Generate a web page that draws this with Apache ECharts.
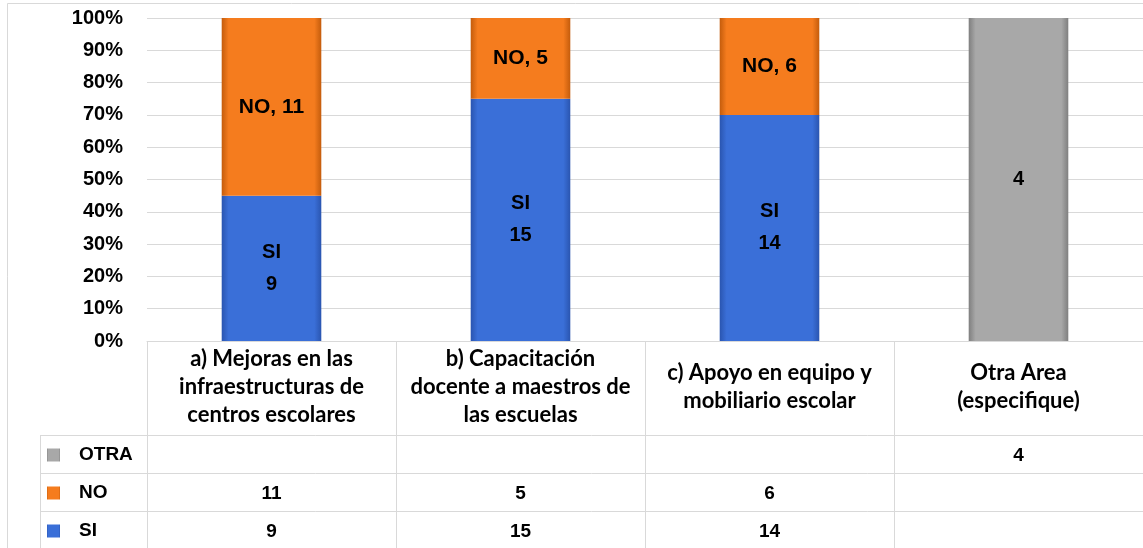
<!DOCTYPE html>
<html>
<head>
<meta charset="utf-8">
<script src="https://cdn.jsdelivr.net/npm/echarts@6/dist/echarts.min.js"></script>
<style>
html,body{margin:0;padding:0;background:#fff;}
#c{width:1143px;height:548px;}
</style>
</head>
<body>
<div id="c"></div>
<script>
var categories = [
  "a) Mejoras en las\ninfraestructuras de\ncentros escolares",
  "b) Capacitación\ndocente a maestros de\nlas escuelas",
  "c) Apoyo en equipo y\nmobiliario escolar",
  "Otra Area\n(especifique)"
];
var siValues = [9, 15, 14, null];
var noValues = [11, 5, 6, null];
var otraValues = [null, null, null, 4];
var yTicks = [0, 10, 20, 30, 40, 50, 60, 70, 80, 90, 100];

function totals(i) {
  return (siValues[i] || 0) + (noValues[i] || 0) + (otraValues[i] || 0);
}
function pct(arr) {
  return arr.map(function (v, i) { return v == null ? null : v / totals(i) * 100; });
}
function grad(edge, mid) {
  return new echarts.graphic.LinearGradient(0, 0, 1, 0, [
    {offset: 0, color: edge}, {offset: 0.07, color: mid},
    {offset: 0.93, color: mid}, {offset: 1, color: edge}
  ]);
}
var blue = grad('#2a55b0', '#3a6fd8');
var orange = grad('#c45c0c', '#f57c1e');
var gray = grad('#7f7f7f', '#a8a8a8');

var lineColor = '#d9d9d9';

function rowAxis(values, offset) {
  return {
    type: 'category', data: categories, position: 'bottom', offset: offset,
    axisLine: {show: false}, axisTick: {show: false},
    axisLabel: {
      interval: 0, margin: 0, verticalAlign: 'middle',
      fontFamily: 'Liberation Sans', fontWeight: 'bold', fontSize: 19, color: '#000',
      formatter: function (v, idx) { return values[idx] == null ? '' : String(values[idx]); }
    }
  };
}

var chart = echarts.init(document.getElementById('c'));
var option = {
  animation: false,
  backgroundColor: '#fff',
  grid: {left: 147, right: -6, top: 18, bottom: 207},
  legend: {
    data: ['OTRA', 'NO', 'SI'],
    orient: 'vertical', left: 47, top: 444, padding: 0,
    itemWidth: 13, itemHeight: 13, itemGap: 16,
    icon: 'rect',
    textStyle: {fontFamily: 'Liberation Sans', fontWeight: 'bold', fontSize: 19, lineHeight: 22, color: '#000', padding: [0, 0, 0, 14]}
  },
  xAxis: [
    {
      type: 'category', data: categories, position: 'bottom',
      axisLine: {show: true, lineStyle: {color: lineColor}},
      axisTick: {show: true, interval: 0, length: 207, lineStyle: {color: lineColor}},
      axisLabel: {
        interval: 0, margin: 46, verticalAlign: 'middle', lineHeight: 28,
        fontFamily: 'Lato', fontWeight: 'bold', fontSize: 22, color: '#000'
      }
    },
    rowAxis(otraValues, 115),
    rowAxis(noValues, 153),
    rowAxis(siValues, 191)
  ],
  yAxis: {
    type: 'value', min: yTicks[0], max: yTicks[yTicks.length - 1], interval: yTicks[1] - yTicks[0],
    axisLine: {show: false}, axisTick: {show: false},
    splitLine: {lineStyle: {color: lineColor}},
    axisLabel: {margin: 24, formatter: '{value}%', fontFamily: 'Liberation Sans', fontWeight: 'bold', fontSize: 20, color: '#000'}
  },
  series: [
    {
      name: 'SI', type: 'bar', stack: 't', barWidth: '40%', data: pct(siValues),
      itemStyle: {color: blue},
      label: {show: true, position: 'inside', lineHeight: 32, fontSize: 20, fontFamily: 'Liberation Sans', fontWeight: 'bold', color: '#000',
        formatter: function (p) { return 'SI\n' + siValues[p.dataIndex]; }}
    },
    {
      name: 'NO', type: 'bar', stack: 't', data: pct(noValues),
      itemStyle: {color: orange},
      label: {show: true, position: 'inside', fontSize: 21, fontFamily: 'Liberation Sans', fontWeight: 'bold', color: '#000',
        formatter: function (p) { return 'NO, ' + noValues[p.dataIndex]; }}
    },
    {
      name: 'OTRA', type: 'bar', stack: 't', data: pct(otraValues),
      itemStyle: {color: gray},
      label: {show: true, position: 'inside', fontSize: 20, fontFamily: 'Liberation Sans', fontWeight: 'bold', color: '#000',
        formatter: function (p) { return String(otraValues[p.dataIndex]); }}
    }
  ],
  graphic: [
    {type: 'rect', silent: true, z: -1, shape: {x: 7.5, y: 3.5, width: 1200, height: 600}, style: {fill: 'none', stroke: lineColor, lineWidth: 1}},
    {type: 'line', silent: true, shape: {x1: 40, y1: 435.5, x2: 1143, y2: 435.5}, style: {stroke: lineColor, lineWidth: 1}},
    {type: 'line', silent: true, shape: {x1: 40, y1: 473.5, x2: 1143, y2: 473.5}, style: {stroke: lineColor, lineWidth: 1}},
    {type: 'line', silent: true, shape: {x1: 40, y1: 511.5, x2: 1143, y2: 511.5}, style: {stroke: lineColor, lineWidth: 1}},
    {type: 'line', silent: true, shape: {x1: 40.5, y1: 435, x2: 40.5, y2: 548}, style: {stroke: lineColor, lineWidth: 1}}
  ]
};
chart.setOption(option);
</script>
</body>
</html>
